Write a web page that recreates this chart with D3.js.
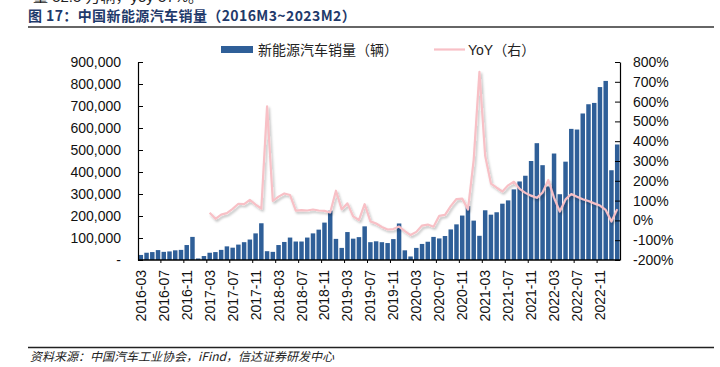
<!DOCTYPE html>
<html>
<head>
<meta charset="utf-8">
<script src="https://cdn.jsdelivr.net/npm/d3@7"></script>
<style>
  body { margin: 0; background: #fff; }
  svg { display: block; font-family: "Liberation Sans", Arial, "Noto Sans CJK SC", sans-serif; }
</style>
</head>
<body>
<div id="chart"></div>
<script>
// monthly NEV sales, thousands of units, 2016-03 .. 2023-02
var months = [];
for (var y = 2016; y <= 2023; y++) {
  for (var m = 1; m <= 12; m++) {
    if ((y == 2016 && m < 3) || (y == 2023 && m > 2)) continue;
    months.push(y + "-" + (m < 10 ? "0" + m : m));
  }
}

var sales2016 = [23, 33, 36, 45, 37, 39, 44, 46, 68, 105];
var sales2017 = [7, 18, 33, 36, 46, 62, 56, 70, 81, 93, 121, 167];
var sales2018 = [40, 37, 68, 82, 102, 84, 84, 102, 121, 138, 170, 224];
var sales2019 = [96, 55, 127, 97, 104, 153, 81, 85, 81, 77, 95, 166];
var sales2020 = [44, 16, 55, 73, 83, 105, 98, 109, 139, 162, 202, 245];
var sales2021 = [179, 110, 226, 206, 217, 256, 271, 321, 357, 383, 450, 531];
var sales2022 = [431, 334, 484, 299, 447, 596, 593, 666, 708, 714, 786, 814];
var sales2023 = [408, 525];
var sales = [].concat(sales2016, sales2017, sales2018, sales2019, sales2020, sales2021, sales2022, sales2023)
  .map(function(v) { return v * 1000; });

// YoY %, starts 2017-03
var yoy2017 = [39, 8, 29, 37, 58, 84, 82, 104, 80, 60];
var yoy2018 = [576, 98, 120, 136, 128, 49, 52, 50, 55, 50, 48, 40];
var yoy2019 = [150, 56, 86, 20, 2, 82, -5, -16, -33, -46, -44, -31];
var yoy2020 = [-54, -74, -58, -26, -21, -32, 23, 28, 72, 108, 110, 55];
var yoy2021 = [306, 750, 326, 186, 165, 146, 177, 195, 159, 139, 125, 114];
var yoy2022 = [141, 204, 114, 45, 106, 133, 119, 107, 98, 86, 75, 53];
var yoy2023 = [-6, 57];
var yoy = [].concat(yoy2017, yoy2018, yoy2019, yoy2020, yoy2021, yoy2022, yoy2023);
var yoyMonths = months.slice(12);

var leftTicks = [0, 100000, 200000, 300000, 400000, 500000, 600000, 700000, 800000, 900000];
var rightTicks = [-200, -100, 0, 100, 200, 300, 400, 500, 600, 700, 800];

var W = 720, H = 367;
var pLeft = 138, pRight = 620, pTop = 62, pBottom = 260;

var svg = d3.select("#chart").append("svg")
  .attr("width", W).attr("height", H);

var defs = svg.append("defs");
var f = defs.append("filter").attr("id", "shadow")
  .attr("x", "-10%").attr("y", "-10%").attr("width", "120%").attr("height", "130%");
f.append("feDropShadow").attr("dx", 1.5).attr("dy", 2).attr("stdDeviation", 1.2)
  .attr("flood-color", "#000").attr("flood-opacity", 0.25);

// header (previous paragraph, cut off at the top edge)
svg.append("text")
  .attr("x", 33).attr("y", 2)
  .style("font-size", "15px").style("fill", "#222")
  .style("font-family", "'Liberation Sans', 'Noto Sans CJK SC', sans-serif")
  .text("量 52.5 万辆，yoy 57%。");

svg.append("text")
  .attr("x", 28).attr("y", 21)
  .style("font-size", "14px").style("font-weight", "bold").style("fill", "#1f3a6b")
  .style("letter-spacing", "0.4px")
  .style("font-family", "'Noto Sans CJK SC', 'Liberation Sans', sans-serif")
  .text("图 17：中国新能源汽车销量（2016M3~2023M2）");

svg.append("line")
  .attr("x1", 28).attr("x2", 714).attr("y1", 27).attr("y2", 27)
  .style("stroke", "#333").style("stroke-width", 1.5);

svg.append("line")
  .attr("x1", 28).attr("x2", 714).attr("y1", 347.5).attr("y2", 347.5)
  .style("stroke", "#222").style("stroke-width", 1.5);

svg.append("text")
  .attr("x", 30).attr("y", 361)
  .style("font-size", "12px").style("font-style", "italic").style("fill", "#222")
  .style("font-family", "'Noto Sans CJK SC', sans-serif")
  .text("资料来源：中国汽车工业协会，iFind，信达证券研发中心");

// scales
var x = d3.scaleBand().domain(months).range([pLeft, pRight]).paddingInner(0.22).paddingOuter(0.1);
var yL = d3.scaleLinear().domain([0, 900000]).range([pBottom, pTop]);
var yR = d3.scaleLinear().domain([-200, 800]).range([pBottom, pTop]);

// bars
svg.append("g").selectAll("rect")
  .data(sales)
  .enter()
  .append("rect")
    .attr("x", function(d, i) { return x(months[i]); })
    .attr("y", function(d) { return yL(d); })
    .attr("width", x.bandwidth())
    .attr("height", function(d) { return pBottom - yL(d); })
    .style("fill", "#2f5f98");

// yoy line
var line = d3.line()
  .x(function(d, i) { return x(yoyMonths[i]) + x.bandwidth() / 2; })
  .y(function(d) { return yR(d); });

svg.append("path")
  .datum(yoy)
  .attr("d", line)
  .attr("filter", "url(#shadow)")
  .style("fill", "none")
  .style("stroke", "#f8c0c6")
  .style("stroke-width", 2.2)
  .style("stroke-linejoin", "round");

// axes
var axL = svg.append("g")
  .attr("transform", "translate(" + pLeft + ",0)")
  .call(d3.axisLeft(yL).tickValues(leftTicks).tickSizeInner(-5).tickSizeOuter(0).tickPadding(17)
    .tickFormat(function(d) { return d == 0 ? "-" : d3.format(",")(d); }));
var axR = svg.append("g")
  .attr("transform", "translate(" + pRight + ",0)")
  .call(d3.axisRight(yR).tickValues(rightTicks).tickSizeInner(-5).tickSizeOuter(0).tickPadding(13)
    .tickFormat(function(d) { return d + "%"; }));

[axL, axR].forEach(function(a) {
  a.select(".domain").style("stroke", "#000").style("stroke-width", 1.2);
  a.selectAll(".tick line").style("stroke", "#000");
  a.selectAll(".tick text").style("font-size", "14px").style("fill", "#111")
    .style("font-family", "'Liberation Sans', Arial, sans-serif");
});

// x axis
var step = x.step();
var labelMonths = months.filter(function(d, i) { return i % 4 == 0; });
var xa = svg.append("g");
xa.append("line")
  .attr("x1", pLeft).attr("x2", pRight).attr("y1", pBottom).attr("y2", pBottom)
  .style("stroke", "#000").style("stroke-width", 1.5);
xa.selectAll("line.tk")
  .data(labelMonths.slice(1))
  .enter()
  .append("line")
    .attr("class", "tk")
    .attr("x1", function(d) { return x(d) - step * x.paddingInner() / 2; })
    .attr("x2", function(d) { return x(d) - step * x.paddingInner() / 2; })
    .attr("y1", pBottom).attr("y2", pBottom + 3)
    .style("stroke", "#000");
xa.selectAll("text")
  .data(labelMonths)
  .enter()
  .append("text")
    .attr("transform", function(d) {
      return "translate(" + (x(d) + x.bandwidth() / 2 + 5) + "," + 270 + ") rotate(-90)";
    })
    .attr("text-anchor", "end")
    .style("font-size", "14px")
    .style("fill", "#111")
    .text(function(d) { return d; });

// legend
var lg = svg.append("g");
lg.append("rect").attr("x", 221).attr("y", 46).attr("width", 32).attr("height", 7)
  .style("fill", "#2f5f98");
lg.append("text").attr("x", 258).attr("y", 54.5)
  .style("font-size", "14px").style("fill", "#222")
  .style("font-family", "'Noto Sans CJK SC', sans-serif")
  .text("新能源汽车销量（辆）");
lg.append("line").attr("x1", 434).attr("x2", 465).attr("y1", 49.5).attr("y2", 49.5)
  .style("stroke", "#f8c0c6").style("stroke-width", 2.2);
lg.append("text").attr("x", 468).attr("y", 54.5)
  .style("font-size", "14px").style("fill", "#222")
  .style("font-family", "'Liberation Sans', 'Noto Sans CJK SC', sans-serif")
  .text("YoY（右）");
</script>
</body>
</html>
